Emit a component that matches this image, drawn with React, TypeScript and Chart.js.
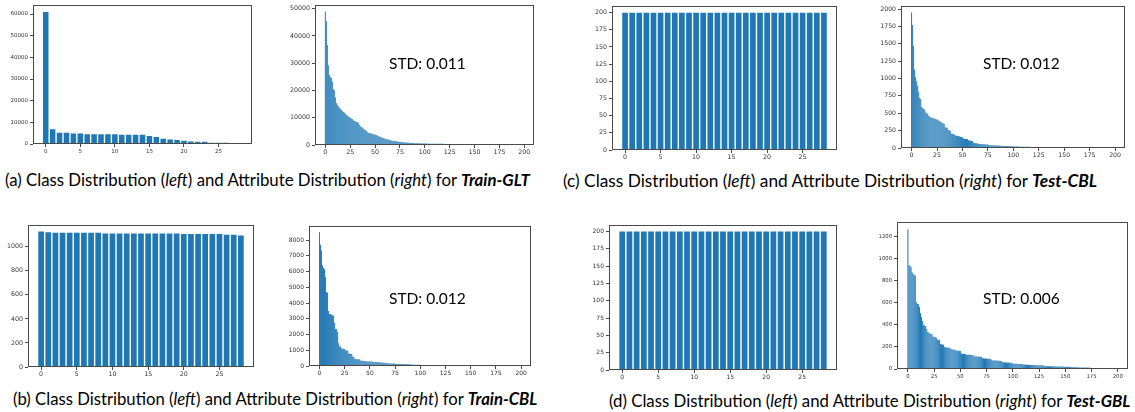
import React, { useEffect, useRef } from 'react';
import { Chart, registerables } from 'chart.js';

Chart.register(...registerables);

// tick labels
const classTicks = [0, 5, 10, 15, 20, 25];
const attrTicks = [0, 25, 50, 75, 100, 125, 150, 175, 200];

const yTicksClassTrainGLT = [0, 10000, 20000, 30000, 40000, 50000, 60000];
const yTicksAttrTrainGLT = [0, 10000, 20000, 30000, 40000, 50000];
const yTicksClassTestCBL = [0, 25, 50, 75, 100, 125, 150, 175, 200];
const yTicksAttrTestCBL = [0, 250, 500, 750, 1000, 1250, 1500, 1750, 2000];
const yTicksClassTrainCBL = [0, 200, 400, 600, 800, 1000];
const yTicksAttrTrainCBL = [0, 1000, 2000, 3000, 4000, 5000, 6000, 7000, 8000];
const yTicksClassTestGBL = [0, 25, 50, 75, 100, 125, 150, 175, 200];
const yTicksAttrTestGBL = [0, 200, 400, 600, 800, 1000, 1200];

// class distributions (29 classes)
const classTrainGLT = [
  61000, 6800, 5150, 5150, 4850, 4850, 4550, 4550, 4550, 4550, 4550, 4250, 4250, 4250, 4250,
  3650, 3200, 2400, 2100, 1800, 1500, 1200, 1050, 1050, 600, 600, 600, 450, 450,
];
const classTrainCBL = [
  1126, 1121, 1116, 1116, 1116, 1116, 1116, 1116, 1116, 1110, 1110, 1110, 1110, 1110, 1110,
  1110, 1110, 1110, 1110, 1110, 1105, 1105, 1105, 1105, 1105, 1105, 1100, 1100, 1094,
];
const classTestCBL = [
  200, 200, 200, 200, 200, 200, 200, 200, 200, 200, 200, 200, 200, 200, 200,
  200, 200, 200, 200, 200, 200, 200, 200, 200, 200, 200, 200, 200, 200,
];
const classTestGBL = [
  200, 200, 200, 200, 200, 200, 200, 200, 200, 200, 200, 200, 200, 200, 200,
  200, 200, 200, 200, 200, 200, 200, 200, 200, 200, 200, 200, 200, 200,
];

// attribute distributions (sorted counts per attribute)
const attrTrainGLT = [
  49000, 45500, 36700, 29300, 25700, 24900, 24600, 23200, 20500, 20200,
  17500, 15400, 14900, 14200, 13700, 13300, 12900, 12600, 12100, 11900,
  11600, 11100, 10800, 10500, 10300, 10100, 9700, 9500, 9100, 8900,
  8700, 8500, 8400, 8200, 7500, 7000, 6700, 6400, 6100, 5800,
  5500, 5300, 4900, 4500, 4400, 4300, 4200, 4100, 4000, 3900,
  3800, 3700, 3600, 3300, 3100, 3000, 2800, 2700, 2600, 2500,
  2300, 2200, 2100, 2000, 1900, 1800, 1700, 1600, 1600, 1500,
  1500, 1400, 1400, 1300, 1200, 1200, 1100, 1100, 1000, 1000,
  950, 900, 900, 850, 800, 800, 750, 750, 700, 700,
  680, 660, 640, 620, 600, 600, 580, 560, 550, 540,
  530, 520, 510, 500, 500, 490, 480, 480, 470, 470,
  460, 460, 450, 450, 440, 440, 430, 430, 420, 420,
  410, 410, 400, 400, 400, 390, 390, 390, 380, 380,
  380, 370, 370, 370, 360, 360, 360, 350, 350, 350,
  340, 340, 330, 330, 320,
];
const attrTestCBL = [
  1950, 1770, 1470, 1130, 1020, 960, 900, 810, 720, 700,
  590, 575, 560, 550, 510, 500, 490, 460, 450, 440,
  435, 430, 425, 420, 415, 410, 405, 390, 380, 375,
  360, 355, 350, 300, 295, 290, 260, 255, 250, 210,
  205, 200, 195, 180, 178, 175, 172, 165, 163, 160,
  155, 135, 132, 130, 128, 125, 110, 108, 106, 104,
  102, 75, 72, 70, 68, 66, 60, 58, 57, 56,
  55, 54, 53, 52, 51, 50, 42, 41, 40, 39,
  38, 38, 37, 36, 36, 35, 35, 34, 33, 32,
  30, 29, 28, 28, 27, 27, 26, 26, 25, 25,
  22, 21, 21, 20, 20, 20, 19, 19, 19, 18,
  18, 18, 18, 17, 17, 17, 17, 16, 16, 16,
  16, 16, 15, 15, 15, 15, 15, 15, 14, 14,
  14, 14, 14, 14, 13, 13, 13, 13, 13, 13,
  12, 12, 12, 12, 12, 12, 11, 11, 11,
];
const attrTrainCBL = [
  8500, 7700, 7350, 6400, 6250, 6150, 5650, 4700, 4650, 3500,
  3300, 3300, 3250, 3220, 3200, 2750, 2350, 2330, 2170, 1450,
  1250, 1230, 1120, 1100, 1090, 1080, 1000, 990, 980, 800,
  790, 780, 770, 600, 580, 450, 440, 435, 430, 425,
  420, 340, 335, 330, 325, 320, 300, 295, 290, 288,
  286, 284, 282, 260, 258, 255, 252, 250, 248, 246,
  244, 215, 212, 210, 207, 205, 175, 172, 170, 168,
  166, 164, 162, 160, 158, 156, 130, 128, 127, 126,
  125, 124, 123, 122, 121, 120, 119, 118, 117, 116,
  90, 88, 86, 85, 84, 83, 82, 81, 80, 79,
  66, 65, 64, 64, 63, 63, 62, 62, 61, 61,
  60, 60, 59, 59, 58, 58, 57, 57, 56, 56,
  55, 55, 54, 54, 53, 53,
];
const attrTestGBL = [
  1265, 940, 935, 920, 876, 862, 850, 845, 606, 590,
  585, 560, 505, 470, 435, 400, 392, 388, 362, 335,
  330, 320, 318, 315, 295, 290, 288, 285, 268, 265,
  262, 228, 225, 222, 220, 198, 196, 195, 194, 193,
  192, 180, 178, 176, 175, 174, 168, 166, 165, 164,
  163, 140, 138, 136, 135, 134, 130, 129, 129, 128,
  128, 127, 127, 115, 114, 113, 112, 112, 111, 110,
  110, 98, 97, 96, 95, 94, 93, 93, 92, 91,
  80, 79, 78, 77, 76, 76, 75, 74, 73, 72,
  62, 61, 60, 59, 59, 58, 58, 57, 56, 55,
  49, 48, 48, 47, 47, 46, 46, 45, 45, 44,
  40, 40, 39, 39, 38, 38, 38, 37, 37, 37,
  36, 36, 36, 35, 35, 35, 34, 34, 33, 33,
  26, 26, 25, 25, 25, 25, 24, 24, 24, 24,
  23, 23, 23, 23, 22, 22, 22, 22, 21, 21,
  21, 20, 20, 20, 17, 16, 16, 16, 15, 15,
  15, 15, 15, 14, 14, 14, 14, 14, 13, 13,
  13, 13, 13, 12, 12, 10, 10, 10, 10, 10,
  9, 9, 9, 9, 9, 9, 9, 9, 8, 8,
  8, 8, 8, 8, 8, 8, 7, 7,
];

const BAR_COLOR = '#1f77b4';
const Y_W = 32;
const X_H = 14;

// matplotlib-like box around the axes
const framePlugin = {
  id: 'frame',
  afterDraw(chart: any) {
    const { ctx, chartArea: a } = chart;
    ctx.save();
    ctx.strokeStyle = '#4a4a4a';
    ctx.lineWidth = 1;
    ctx.strokeRect(
      Math.round(a.left) + 0.5,
      Math.round(a.top) + 0.5,
      Math.round(a.right - a.left) - 1,
      Math.round(a.bottom - a.top) - 1
    );
    ctx.restore();
  },
};

interface Frame { l: number; t: number; r: number; b: number }

interface PanelProps {
  values: number[];
  xRange: [number, number];
  xTicks: number[];
  yTicks: number[];
  frame: Frame;
  fontSize: number;
  barPct: number;
}

const Panel: React.FC<PanelProps> = ({ values, xRange, xTicks, yTicks, frame, fontSize, barPct }) => {
  const ref = useRef<HTMLCanvasElement>(null);
  const W = frame.r - frame.l + Y_W + 2;
  const H = frame.b - frame.t + 2 + X_H;

  useEffect(() => {
    if (!ref.current) return;
    const tickFont = { family: 'DejaVu Sans', size: fontSize };
    const chart = new Chart(ref.current, {
      type: 'bar',
      data: {
        datasets: [
          {
            data: values.map((v, i) => ({ x: i, y: v })),
            backgroundColor: BAR_COLOR,
            borderWidth: 0,
            barPercentage: barPct,
            categoryPercentage: 1,
          },
        ],
      },
      options: {
        responsive: false,
        animation: false,
        layout: { padding: { top: 2, right: 2, left: 0, bottom: 0 } },
        plugins: { legend: { display: false }, tooltip: { enabled: false } },
        scales: {
          x: {
            type: 'linear',
            min: xRange[0],
            max: xRange[1],
            offset: false,
            border: { display: false },
            grid: { offset: false, drawOnChartArea: false, drawTicks: true, tickLength: 3, color: '#4a4a4a' },
            ticks: { font: tickFont, color: '#333', padding: 1, maxRotation: 0, autoSkip: false, callback: (v: any) => String(v) },
            afterBuildTicks: (s: any) => { s.ticks = xTicks.map((v) => ({ value: v })); },
            afterFit: (s: any) => { s.height = X_H; },
          },
          y: {
            type: 'linear',
            min: 0,
            max: Math.max(...values) * 1.05,
            border: { display: false },
            grid: { drawOnChartArea: false, drawTicks: true, tickLength: 3, color: '#4a4a4a' },
            ticks: { font: tickFont, color: '#333', padding: 2, autoSkip: false, callback: (v: any) => String(v) },
            afterBuildTicks: (s: any) => { s.ticks = yTicks.map((v) => ({ value: v })); },
            afterFit: (s: any) => { s.width = Y_W; },
          },
        },
      } as any,
      plugins: [framePlugin],
    });
    return () => chart.destroy();
  }, [values]);

  return (
    <canvas
      ref={ref}
      width={W}
      height={H}
      style={{ position: 'absolute', left: frame.l - Y_W, top: frame.t - 2, width: W, height: H }}
    />
  );
};

const CLASS_RANGE: [number, number] = [-1.84, 29.84];
const ATTR_RANGE: [number, number] = [-10.4, 209.8];

const textFont = 'Lato, "Open Sans", sans-serif';

const Caption: React.FC<{ left: number; top: number; tag: string; name: string; size: number }> = ({ left, top, tag, name, size }) => (
  <div style={{ position: 'absolute', left, top, fontFamily: textFont, fontSize: size, lineHeight: 1, whiteSpace: 'nowrap', color: '#000' }}>
    ({tag}) Class Distribution (<i>left</i>) and Attribute Distribution (<i>right</i>) for <b><i>{name}</i></b>
  </div>
);

const Std: React.FC<{ left: number; top: number; text: string }> = ({ left, top, text }) => (
  <div style={{ position: 'absolute', left, top, fontFamily: textFont, fontSize: 15.5, lineHeight: 1, whiteSpace: 'nowrap', color: '#000' }}>
    {text}
  </div>
);

export default function App() {
  return (
    <div style={{ position: 'absolute', left: 0, top: 0, width: 1135, height: 412, background: '#fff', overflow: 'hidden' }}>
      <Panel values={classTrainGLT} xRange={CLASS_RANGE} xTicks={classTicks} yTicks={yTicksClassTrainGLT} frame={{ l: 33, t: 2, r: 252, b: 144 }} fontSize={5.5} barPct={0.8} />
      <Panel values={attrTrainGLT} xRange={ATTR_RANGE} xTicks={attrTicks} yTicks={yTicksAttrTrainGLT} frame={{ l: 315, t: 1, r: 534, b: 145 }} fontSize={6.3} barPct={0.95} />
      <Panel values={classTestCBL} xRange={CLASS_RANGE} xTicks={classTicks} yTicks={yTicksClassTestCBL} frame={{ l: 612, t: 2, r: 837, b: 150 }} fontSize={6.3} barPct={0.8} />
      <Panel values={attrTestCBL} xRange={ATTR_RANGE} xTicks={attrTicks} yTicks={yTicksAttrTestCBL} frame={{ l: 901, t: 2, r: 1125, b: 148 }} fontSize={6.2} barPct={0.95} />
      <Panel values={classTrainCBL} xRange={CLASS_RANGE} xTicks={classTicks} yTicks={yTicksClassTrainCBL} frame={{ l: 28, t: 221, r: 254, b: 367 }} fontSize={6.3} barPct={0.8} />
      <Panel values={attrTrainCBL} xRange={ATTR_RANGE} xTicks={attrTicks} yTicks={yTicksAttrTrainCBL} frame={{ l: 309, t: 222, r: 531, b: 366 }} fontSize={6} barPct={0.95} />
      <Panel values={classTestGBL} xRange={CLASS_RANGE} xTicks={classTicks} yTicks={yTicksClassTestGBL} frame={{ l: 609, t: 221, r: 837, b: 370 }} fontSize={6} barPct={0.8} />
      <Panel values={attrTestGBL} xRange={ATTR_RANGE} xTicks={attrTicks} yTicks={yTicksAttrTestGBL} frame={{ l: 897, t: 219, r: 1128, b: 369 }} fontSize={5.3} barPct={0.95} />

      <Std left={389} top={56} text="STD: 0.011" />
      <Std left={983} top={56} text="STD: 0.012" />
      <Std left={389} top={291} text="STD: 0.012" />
      <Std left={983} top={291} text="STD: 0.006" />

      <Caption left={5} top={172} tag="a" name="Train-GLT" size={16.8} />
      <Caption left={563} top={172} tag="c" name="Test-CBL" size={17.3} />
      <Caption left={13} top={391} tag="b" name="Train-CBL" size={16.7} />
      <Caption left={609} top={393} tag="d" name="Test-GBL" size={16.8} />
    </div>
  );
}
